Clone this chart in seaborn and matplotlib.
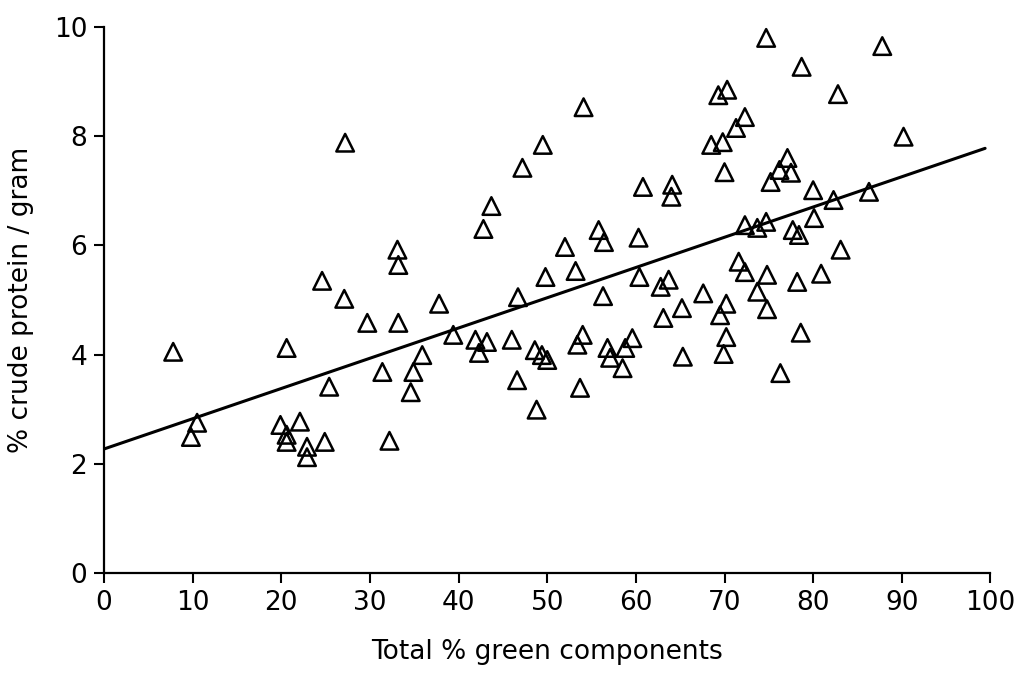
import matplotlib
matplotlib.use("Agg")
import matplotlib.pyplot as plt
import numpy as np
import pandas as pd
import seaborn as sns

# values
green_pct = [7.8, 9.8, 10.5, 19.9, 20.6, 20.6, 20.6, 22.1, 22.9, 22.9,
             24.6, 24.9, 25.4, 27.1, 27.2, 29.7, 31.4, 32.2, 33.1, 33.2,
             33.2, 34.6, 34.9, 35.9, 37.8, 39.4, 41.9, 42.3, 42.8, 43.2,
             43.7, 46.0, 46.6, 46.7, 47.2, 48.6, 48.8, 49.4, 49.5, 49.8,
             50.0, 52.0, 53.2, 53.4, 53.7, 54.0, 54.1, 55.8, 56.3, 56.4,
             56.8, 57.1, 58.5, 58.8, 59.6, 60.3, 60.4, 60.8, 62.8, 63.1,
             63.7, 64.0, 64.1, 65.2, 65.3, 67.6, 68.5, 69.3, 69.5, 69.8,
             69.9, 70.0, 70.2, 70.2, 70.3, 71.3, 71.6, 72.3, 72.3, 72.3,
             73.7, 73.7, 74.7, 74.7, 74.8, 74.8, 75.2, 76.2, 76.3, 77.1,
             77.5, 77.7, 78.2, 78.4, 78.6, 78.7, 80.0, 80.1, 80.9, 82.3,
             82.8, 83.1, 86.3, 87.8, 90.2]
crude_protein = [4.05, 2.49, 2.75, 2.71, 2.53, 2.40, 4.12, 2.77, 2.31, 2.12,
                 5.35, 2.40, 3.41, 5.02, 7.88, 4.58, 3.68, 2.42, 5.92, 5.64,
                 4.58, 3.31, 3.68, 3.99, 4.93, 4.36, 4.27, 4.03, 6.30, 4.23,
                 6.72, 4.27, 3.53, 5.05, 7.42, 4.08, 2.99, 3.99, 7.84, 5.42,
                 3.90, 5.97, 5.53, 4.18, 3.39, 4.36, 8.53, 6.28, 5.07, 6.06,
                 4.12, 3.94, 3.75, 4.12, 4.30, 6.14, 5.42, 7.07, 5.24, 4.67,
                 5.37, 6.89, 7.11, 4.85, 3.96, 5.12, 7.84, 8.75, 4.72, 7.89,
                 4.01, 7.34, 4.93, 4.32, 8.85, 8.15, 5.70, 8.35, 6.37, 5.51,
                 6.32, 5.15, 9.80, 6.43, 5.46, 4.83, 7.16, 7.38, 3.66, 7.60,
                 7.33, 6.28, 5.33, 6.19, 4.40, 9.27, 7.01, 6.50, 5.48, 6.83,
                 8.77, 5.92, 6.98, 9.65, 7.99]

# fitted line as printed
intercept = 2.27
slope = 0.0554
line_x = [0, 99.4]

df = pd.DataFrame({"green": green_pct, "protein": crude_protein})

sns.set_style("ticks")
plt.rcParams["font.family"] = ["DejaVu Sans"]
plt.rcParams["text.color"] = "black"
plt.rcParams["axes.labelcolor"] = "black"
plt.rcParams["xtick.color"] = "black"
plt.rcParams["ytick.color"] = "black"

fig = plt.figure(figsize=(10.2, 6.74), dpi=100)
ax = fig.add_axes([0.102, 0.150, 0.869, 0.810])

sns.scatterplot(data=df, x="green", y="protein", marker="^", s=160,
                facecolors="none", edgecolor="black", linewidth=1.8,
                ax=ax, zorder=3)
lx = np.array(line_x)
sns.lineplot(x=lx, y=intercept + slope * lx, color="black", linewidth=2.2, ax=ax)

ax.set_xlim(0, 100)
ax.set_ylim(0, 10)
ax.set_xticks(range(0, 101, 10))
ax.set_yticks(range(0, 11, 2))
ax.tick_params(labelsize=19, width=1.5, length=7, color="black", pad=5)
for s in ["left", "bottom"]:
    ax.spines[s].set_linewidth(1.6)
    ax.spines[s].set_color("black")
sns.despine(ax=ax)

ax.set_xlabel("Total % green components", fontsize=19, labelpad=17)
ax.set_ylabel("% crude protein / gram", fontsize=19, labelpad=14)

fig.savefig("out.png", dpi=100, facecolor="white")
